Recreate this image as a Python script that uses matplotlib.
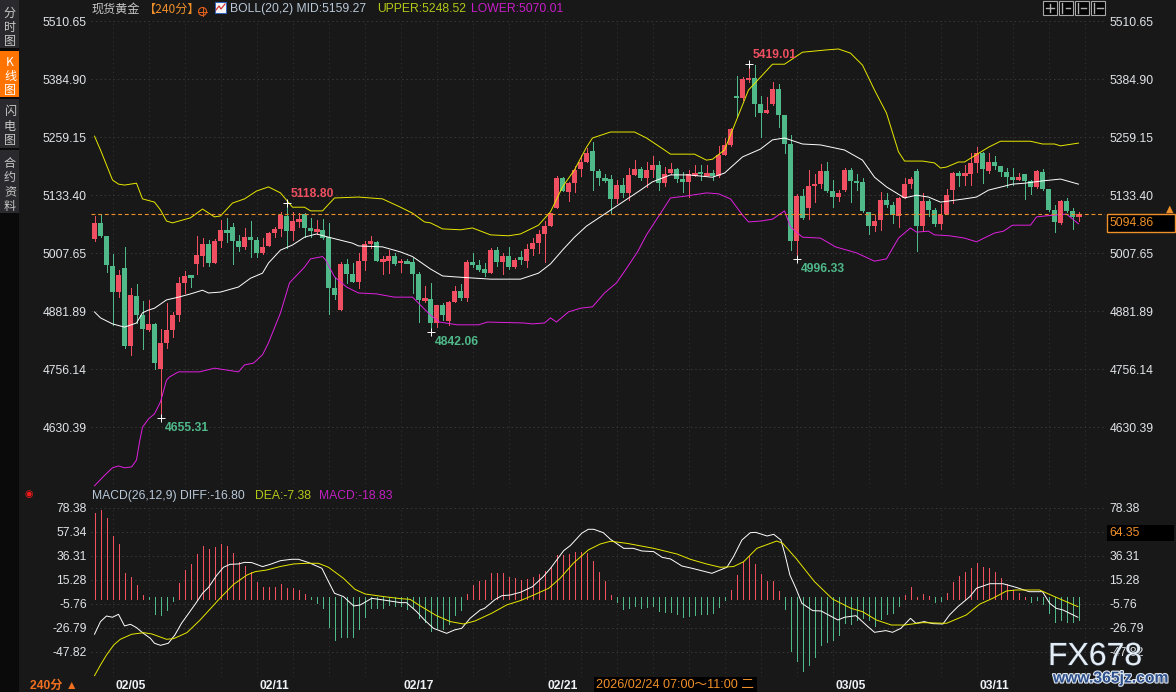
import matplotlib
matplotlib.use('Agg')
import matplotlib.pyplot as plt
import matplotlib.patheffects as pe
from matplotlib.patches import Rectangle, Ellipse
import numpy as np

W, H = 1176, 692

opens = [5037,5072,5045,4980,4924,4975,4806,4914,4873,4841,
         4854,4756,4813,4841,4873,4943,4960,4984,5001,5027,
         4986,5034,5058,5064,5034,5021,5042,5036,5008,5023,
         5051,5060,5088,5055,5077,5092,5062,5055,5058,5042,
         4932,4884,4984,4962,4945,4990,5027,5032,4990,4990,
         5001,4986,4990,4988,4962,4906,4908,4857,4895,4860,
         4901,4925,4910,4988,4982,4973,4964,5014,4988,5001,
         4977,5000,4990,5016,5029,5049,5066,5105,5170,5140,
         5159,5190,5205,5229,5185,5170,5168,5125,5155,5138,
         5177,5190,5170,5188,5199,5159,5181,5190,5168,5162,
         5177,5183,5178,5181,5175,5220,5242,5348,5344,5383,
         5387,5331,5312,5331,5363,5307,5244,5034,5131,5105,
         5153,5157,5185,5142,5129,5144,5188,5164,5162,5097,
         5066,5079,5123,5112,5088,5127,5157,5185,5066,5120,
         5101,5071,5092,5144,5181,5177,5179,5203,5224,5185,
         5205,5196,5183,5172,5166,5179,5164,5151,5183,5146,
         5101,5073,5120,5099,5088]
highs = [5088,5090,5045,5006,4971,5020,4931,4941,4904,4906,
         4856,4843,4900,4879,4956,4969,4961,5045,5040,5036,
         5037,5079,5083,5073,5047,5061,5077,5043,5040,5054,
         5065,5097,5117,5097,5094,5095,5083,5079,5081,5072,
         4956,4988,4995,4985,5008,5034,5045,5034,5001,5014,
         5008,4994,4994,4996,4967,4936,4942,4895,4900,4904,
         4936,4940,4993,5007,4993,4985,5018,5020,5007,5021,
         4996,5011,5027,5040,5058,5076,5095,5175,5172,5162,
         5196,5220,5235,5248,5189,5180,5177,5167,5170,5191,
         5209,5195,5206,5217,5207,5195,5202,5191,5184,5188,
         5199,5199,5199,5188,5240,5256,5279,5391,5389,5417,
         5415,5348,5345,5378,5374,5307,5264,5136,5146,5188,
         5179,5201,5205,5166,5144,5191,5191,5178,5170,5097,
         5090,5141,5138,5119,5130,5170,5173,5189,5137,5124,
         5105,5115,5146,5184,5186,5199,5225,5237,5227,5224,
         5217,5197,5191,5193,5182,5180,5166,5188,5189,5146,
         5112,5123,5126,5105,5097]
lows = [5034,5042,4967,4852,4913,4801,4787,4855,4800,4838,
        4756,4651,4801,4826,4861,4920,4935,4962,4980,4980,
        4986,5021,5032,4984,5013,5016,4998,4998,5006,5023,
        5043,5045,5018,5036,5065,5043,5043,5049,5037,4875,
        4909,4884,4942,4945,4932,4971,5018,4990,4962,4964,
        4982,4967,4985,4920,4859,4902,4837,4848,4862,4852,
        4901,4906,4904,4978,4969,4958,4964,4980,4962,4973,
        4975,4984,4978,5003,5007,4989,5066,5105,5142,5120,
        5140,5175,5204,5144,5155,5162,5094,5117,5130,5123,
        5177,5166,5151,5172,5144,5153,5180,5162,5139,5130,
        5175,5166,5177,5166,5172,5220,5240,5303,5339,5379,
        5305,5260,5312,5329,5280,5225,5014,4994,5081,5081,
        5119,5148,5140,5108,5120,5142,5119,5144,5097,5049,
        5056,5058,5108,5072,5063,5127,5148,5013,5056,5087,
        5066,5060,5092,5117,5153,5155,5155,5183,5160,5182,
        5190,5175,5151,5155,5165,5125,5136,5148,5144,5099,
        5053,5071,5097,5060,5077]
closes = [5072,5045,4982,4924,4960,4806,4917,4873,4843,4854,
          4769,4813,4841,4873,4943,4958,4958,5003,5027,4986,
          5034,5058,5055,5034,5021,5042,5036,5008,5021,5051,
          5060,5090,5055,5077,5079,5062,5055,5058,5040,4932,
          4917,4984,4962,4945,4990,5027,5034,4990,4993,5001,
          4984,4990,4988,4962,4906,4907,4857,4895,4873,4901,
          4925,4910,4988,4982,4971,4964,5014,4988,5001,4977,
          4993,4993,5016,5029,5049,5066,5094,5170,5142,5159,
          5188,5205,5225,5185,5170,5168,5125,5155,5138,5177,
          5190,5170,5188,5199,5159,5179,5190,5168,5162,5179,
          5178,5179,5179,5175,5220,5242,5277,5344,5385,5387,
          5331,5311,5318,5363,5307,5244,5034,5131,5084,5153,
          5157,5185,5142,5129,5137,5188,5164,5159,5099,5066,
          5077,5123,5112,5090,5127,5157,5168,5066,5120,5101,
          5071,5090,5133,5181,5175,5179,5203,5224,5190,5205,
          5196,5183,5172,5166,5172,5164,5151,5185,5146,5101,
          5075,5120,5099,5086,5090]

upper_x = [0,1,3,4,5,7,8,10,11,12,13,16,18,20,21,23,25,27,29,31,33,35,36,38,40,44,48,51,53,55,
           56,58,61,63,66,69,71,74,76,78,80,82,83,86,90,92,95,96,100,102,103,105,107,109,111,
           113,115,118,122,124,126,128,130,132,134,135,138,140,141,142,144,145,149,151,156,158,160,161,163,164]
upper = [5261,5231,5166,5157,5155,5159,5125,5118,5101,5077,5073,5084,5103,5086,5088,5116,5125,5142,5151,5138,5107,5107,5099,5099,5127,5129,5125,5107,5094,5075,
         5073,5060,5058,5062,5047,5045,5049,5068,5097,5151,5188,5237,5257,5270,5270,5257,5231,5222,5222,5209,5211,5231,5296,5361,5389,
         5417,5417,5443,5448,5450,5441,5415,5361,5311,5227,5207,5207,5203,5192,5194,5205,5205,5237,5250,5250,5244,5244,5240,5244,5246]

mid_x = [0,1,3,5,7,8,9,10,12,14,16,18,19,21,24,26,28,29,31,33,35,37,39,43,44,48,51,53,56,58,60,66,71,74,76,78,80,82,85,88,91,93,96,99,
         103,105,108,111,113,115,118,121,125,128,130,132,135,137,139,141,145,147,149,153,155,158,161,164]
mid = [4880,4867,4854,4847,4856,4878,4884,4888,4906,4912,4919,4927,4921,4923,4934,4953,4964,4986,5014,5025,5042,5049,5042,5029,5023,5021,5010,5000,4973,4958,4956,4951,4951,4964,4984,5014,5042,5066,5092,5118,5144,5162,5177,5177,
       5172,5181,5216,5233,5253,5257,5244,5242,5231,5209,5172,5151,5127,5133,5129,5118,5125,5129,5144,5157,5159,5164,5168,5157]

lower_x = [0,1.7,3,4,5,6.2,7,7.5,8,9,10,11,12,12.5,14,17.5,20,24,25,26.5,28,29,31,32.5,35,36,38,38.5,40,42,44,47,50,53,54,56,57.5,60.5,64,65.5,71.5,73,75,76,77,79,81,83,85,87,88.5,90.5,92,96,98.5,102,104,106,108,109,111,
           113,115,116,118,121,123.5,127,130,132,134,136,137,139,140,142.5,145,147,150,151.5,153,156,157,160,162,164]
lower = [4503,4526,4542,4546,4542,4544,4559,4598,4630,4648,4659,4685,4732,4739,4750,4750,4758,4750,4765,4769,4787,4813,4878,4943,4977,4995,5000,4993,4956,4934,4921,4919,4912,4912,4899,4873,4858,4852,4852,4858,4856,4854,4856,4867,4858,4880,4888,4891,4921,4943,4971,5010,5047,5127,5131,5138,5136,5125,5090,5075,5077,
         5081,5099,5064,5042,5040,5021,5008,4990,4995,5040,5062,5053,5055,5047,5045,5040,5032,5051,5055,5068,5068,5086,5090,5092,5071]

macd_hist = [73.7,76.6,69.9,54.1,47.1,21.4,17.9,10.9,2.1,-1.7,
             -14.5,-15.4,-11,-2.8,12.6,24,29.3,38,45,42.4,
             44.2,46.8,45,38.9,31,27.5,22.3,13.5,9.1,9.1,
             9.1,11.8,8.3,8.3,6.5,3,-1.1,-4.9,-9.3,-25.9,
             -37.3,-34.7,-34.7,-34.7,-27.7,-17.2,-9.3,-9.3,-9.3,-6.6,
             -7.5,-7.5,-10.1,-9.6,-18,-21.5,-29.4,-27.1,-27.7,-23.3,
             -15.4,-11,3,10.9,14.4,15.3,21.4,21.4,21.4,17.9,
             17,15.3,16.1,17.9,20.5,23.2,26.7,37.2,37.2,38,
             39.8,39.8,38.9,31.9,22.3,14.4,2.1,-4,-10.1,-9.3,
             -7.5,-9.3,-8.4,-7.5,-11.9,-12.8,-12.8,-14.5,-17.2,-16.3,
             -15.4,-14.5,-14.5,-13.6,-8.4,-2.3,6.5,19.6,31,36.3,
             29.3,20.5,14.4,14.4,5.6,-10.1,-47,-55.7,-64.5,-59.2,
             -52.2,-41.7,-39.1,-37.3,-33,-22.4,-23.3,-19.8,-18,-20.1,
             -25,-18.9,-14.5,-13.6,-7.5,2.1,9.1,0.4,3,1.2,
             -4,-3.1,3.9,13.5,18.8,22.3,25.8,30.2,26.7,25.8,
             22.3,17,11.8,6.5,3.9,0.4,-4,-2.3,-5.8,-13.6,
             -21.5,-19.8,-21.5,-21.5,-19.8]

diff_x = [0,1,2,3,4,5,6,7,8,9.3,10,11,12.3,13.4,14.5,15.7,16.8,18,19,20.4,21.5,22.6,24,25,26.2,28,29.3,31,32.9,34,35.7,37.9,39,40,41.5,43.2,44.3,46.2,48.2,
          51,52,53.7,55,56.5,58.7,60,61.2,62.6,64.3,65,66.8,67.9,69.3,71,73,74.8,76,78.2,79.3,81.2,82.3,83.2,84.8,86,88.2,89.8,91.2,93.2,94.6,96,97.9,99.6,102.9,105.4,106.5,107.9,109.3,110.2,112.1,113.2,
          114.4,115.1,115.9,116.9,117.9,119.7,121.1,123.9,125,126.9,128.6,130,131.9,133,134.4,136,136.9,138.3,139.7,141.4,142.5,143.9,145.9,147,149.2,151.4,153.6,155.8,158,159.2,160.3,161.4,163.9]
diff = [-32.3,-21.2,-16.3,-17.4,-14.8,-25,-23.6,-26.5,-30.9,-35.8,-40.2,-42,-40.2,-32.9,-22.7,-13.9,-5.8,3.6,8.8,19.6,26.4,29,29.3,30.7,30.5,27,29,32.2,33.4,33.4,30.5,25.5,13.8,3.6,0.7,-7.5,-6.6,-0.8,-2.3,
        -4.6,-4.6,-12.5,-19.8,-27.1,-31.5,-28.5,-27.1,-18.3,-11,-9.6,-1.7,1.5,2.1,4.5,9.4,18.2,25.5,41,45.4,56.2,59.7,59.7,56.7,50.9,43,43,40.7,40.1,35.1,33.7,27.5,25.5,21.1,26.4,35.7,50.3,56.7,57,53.8,55.3,
        50.3,37.2,19.6,8,-5.2,-11.6,-11.9,-19.8,-17.4,-16,-24.2,-30.6,-29.1,-30.6,-27.1,-18.3,-22.7,-21.2,-23,-23.3,-15.4,-8.1,0.7,8,12,12,8.8,5,5,-5.2,-9.6,-11,-17.4]

dea_x = [0,1,2,3.2,4.3,6.2,8.2,9.6,12,13.2,15.4,17.6,20.9,23.2,25.4,26.8,28.7,30.9,33.2,35.4,37.3,39,41.5,43.4,45.1,48.2,
         51,52.6,54.3,57,59.3,61.5,63.4,66.2,68.7,71,73.2,75.7,77.6,79.8,82.3,84.3,86,88.7,93.2,97.1,99.3,102,104.3,106.5,108.2,110.4,113.7,
         114.7,116.9,120,123,126.1,128,130.3,132.8,135,138,142,145.3,147.5,149.7,152,153.6,157.5,160.3,163.9]
dea = [-68.6,-59.2,-50.5,-41.7,-36.7,-32.3,-30.9,-32.1,-36.7,-36.1,-30.9,-19.8,-0.8,11.5,19.6,22.6,24,27,29.3,29.9,29.9,26.4,16.7,7.1,3,0.7,
       -1.1,-1.7,-7.5,-16,-21.2,-23.3,-20.7,-13.9,-6.6,-2.8,2.1,8,16.7,29.9,41.6,46.8,49.2,47.4,43,38,33.4,29.3,26.4,27,31.3,43,49.4,
       47.4,34.3,13.8,-1.4,-9.6,-12.5,-19.8,-24.2,-24.2,-22.1,-22.7,-15.4,-6,-0.8,5.6,6.5,6.5,0,-8.1]

price_ticks = [5510.65,5384.90,5259.15,5133.40,5007.65,4881.89,4756.14,4630.39]
macd_ticks = [78.38,57.34,36.31,15.28,-5.76,-26.79,-47.82]
date_idx = [6,30,54,78,126,150]
date_labels = ['02/05','02/11','02/17','02/21','03/05','03/11']
peak_labels = [(32,'5118.80','up'),(11,'4655.31','down'),(56,'4842.06','down'),(109,'5419.01','up'),(117,'4996.33','down')]
last_price = 5094.86

BG = '#181818'
RED = '#ef4f60'
GREEN = '#4fb98a'
YELLOW = '#e8e800'
MAGENTA = '#e020e0'
ORANGE = '#f0902a'
TXT = '#e0e4e8'
CJK = ['Noto Sans CJK SC', 'DejaVu Sans']
plt.rcParams['font.family'] = ['Liberation Sans', 'Noto Sans CJK SC', 'DejaVu Sans']
plt.rcParams['font.size'] = 8.7


def px_axes(left, top, right, bottom):
    return fig.add_axes([left / W, 1 - bottom / H, (right - left) / W, (bottom - top) / H])


def t(x, y, s, color=TXT, **kw):
    kw.setdefault('va', 'center')
    kw.setdefault('zorder', 5)
    return fig.text(x / W, 1 - y / H, s, color=color, **kw)


def box(x0, y0, x1, y1, **kw):
    kw.setdefault('zorder', 2)
    kw.setdefault('linewidth', 0)
    r = Rectangle((x0 / W, 1 - y1 / H), (x1 - x0) / W, (y1 - y0) / H, transform=fig.transFigure, **kw)
    fig.add_artist(r)
    return r


def seg(xs, ys, color, lw=1.0, zorder=4):
    fig.add_artist(plt.Line2D([v / W for v in xs], [1 - v / H for v in ys], color=color, lw=lw, zorder=zorder))


def style_axes(ax, ticks):
    ax.set_facecolor('none')
    for s in ax.spines.values():
        s.set_visible(False)
    ax.set_xlim((91 - 94.5) / 6, (1105 - 94.5) / 6)
    ax.set_yticks(ticks)
    ax.set_yticklabels(['%.2f' % v for v in ticks])
    ax.tick_params(axis='y', length=0, labelleft=True, labelright=True, pad=3.1, labelcolor=TXT, labelsize=8.7)
    ax.set_xticks(np.arange(3, 166, 6), minor=True)
    ax.tick_params(axis='x', which='minor', length=0)
    ax.grid(axis='y', which='major', color='#3a3a3a', lw=0.7, ls=(0, (1.5, 3)))
    ax.grid(axis='x', which='minor', color='#353535', lw=0.7, ls=(0, (1, 3.5)))
    ax.set_axisbelow(True)


fig = plt.figure(figsize=(W / 100, H / 100), dpi=100, facecolor=BG)

# main pane
ax = px_axes(91, 20, 1105, 488)
ax.set_ylim(5556.2 - 2.168 * 488, 5556.2 - 2.168 * 20)
style_axes(ax, price_ticks)
ax.set_xticks([])

x = np.arange(len(opens))
o = np.array(opens, float)
h = np.array(highs, float)
l = np.array(lows, float)
c = np.array(closes, float)
up = c >= o
for mask, col in ((up, RED), (~up, GREEN)):
    ax.vlines(x[mask], l[mask], h[mask], color=col, lw=0.72, antialiased=False, zorder=3)
    ax.bar(x[mask], np.abs(c - o)[mask], bottom=np.minimum(o, c)[mask], width=0.9, color=col,
           linewidth=0, antialiased=False, zorder=3)
    thin = mask & (np.abs(c - o) < 4)
    ax.hlines(c[thin], x[thin] - 0.42, x[thin] + 0.42, color=col, lw=0.8, antialiased=False, zorder=3)

ax.plot(upper_x, upper, color=YELLOW, lw=0.7, zorder=4)
ax.plot(mid_x, mid, color='white', lw=0.7, zorder=4)
ax.plot(lower_x, lower, color=MAGENTA, lw=0.7, zorder=4)
ax.axhline(last_price - 3, color=ORANGE, lw=0.8, ls=(0, (3.5, 2.5)), zorder=4)

for i, label, side in peak_labels:
    if side == 'up':
        ax.plot(i, highs[i], marker='+', ms=6, mew=0.7, color='white', zorder=5, clip_on=False)
        ax.annotate(label, (i, highs[i]), xytext=(3, 2), textcoords='offset points', color=RED,
                    fontweight='bold', fontsize=8.7, va='bottom', zorder=6)
    else:
        ax.plot(i, lows[i], marker='+', ms=6, mew=0.7, color='white', zorder=5, clip_on=False)
        ax.annotate(label, (i, lows[i]), xytext=(3, -3), textcoords='offset points', color=GREEN,
                    fontweight='bold', fontsize=8.7, va='top', zorder=6)

# macd pane
ax2 = px_axes(91, 507, 1105, 677)
ax2.set_ylim(523.5 - 0.8763 * 677, 523.5 - 0.8763 * 507)
style_axes(ax2, macd_ticks)
hist = np.array(macd_hist)
pos = hist > 0
ax2.vlines(x[pos], -1.2, hist[pos], color='#f4505f', lw=0.72, antialiased=False, zorder=3)
ax2.vlines(x[~pos], 0, hist[~pos], color=GREEN, lw=0.72, antialiased=False, zorder=3)
ax2.plot(diff_x, diff, color='white', lw=0.7, zorder=4)
ax2.plot(dea_x, dea, color=YELLOW, lw=0.7, zorder=4)
ax2.set_xticks(date_idx)
ax2.set_xticklabels(date_labels, fontweight='bold', color='#eef2f6', fontsize=8.7)
ax2.tick_params(axis='x', which='major', length=0, pad=2.5)

# left tab strip
box(0, 0, 19, 692, facecolor='#0a0a0a')
for y0, y1, col in ((0, 48, '#2a2a2e'), (51, 97, '#ff7300'), (99, 148, '#2a2a2e'), (150, 213, '#2a2a2e')):
    box(0, y0, 19, y1, facecolor=col)
for chars, y0, col in (('分时图', 13, '#c8c8c8'), ('K线图', 62, 'white'), ('闪电图', 112, '#c8c8c8'), ('合约资料', 163, '#c8c8c8')):
    for n, ch in enumerate(chars):
        t(10, y0 + n * 14.4, ch, color=col, ha='center', fontsize=8.7, family=CJK)

# header rows
t(92, 9, '现货黄金', family=CJK, fontsize=8.7, color='#c8c8c8')
t(144, 9, '【240分】', family=CJK, fontsize=8.7, color=ORANGE)
fig.add_artist(Ellipse((202.5 / W, 1 - 11.5 / H), 8 / W, 8 / H, transform=fig.transFigure,
                       facecolor='none', edgecolor='#e0601c', linewidth=0.8, zorder=3))
seg((198, 207), (11.5, 11.5), '#e0601c', lw=0.7)
seg((202.5, 202.5), (7, 16), '#e0601c', lw=0.7)
box(215, 2, 226, 13, facecolor='#f4f4f4', edgecolor='#3060c0', linewidth=0.7)
seg((216, 219, 221, 225), (10, 6, 9, 4), '#d02020', lw=0.8)
t(230, 9, 'BOLL(20,2) MID:5159.27', color='#b8c8d8')
t(377, 9, 'UPPER:5248.52', color='#b4c818')
t(471, 9, 'LOWER:5070.01', color='#c81ec8')
t(92, 496, 'MACD(26,12,9) DIFF:-16.80', color='#b8c8d8')
t(255, 496, 'DEA:-7.38', color='#b4c818')
t(319, 496, 'MACD:-18.83', color='#c020c0')
t(29, 494, '◉', color='#f01818', family='DejaVu Sans', ha='center', fontsize=7)

# toolbar, top right
for x0 in (1043, 1059, 1075, 1091):
    box(x0, 1, x0 + 14, 15, facecolor='#050505', edgecolor='#a8a8a8', linewidth=0.8, zorder=3)
for xs, ys in (((1046, 1054), (8, 8)), ((1050, 1050), (4, 12)), ((1062, 1062), (3, 13)), ((1066, 1070), (8, 8)),
               ((1078, 1078), (3, 13)), ((1081, 1086), (8, 8)), ((1094, 1094), (3, 13)), ((1097, 1103), (8, 8))):
    seg(xs, ys, '#b0b0b0')

# price boxes at the right
box(1106.5, 214.5, 1175, 232, facecolor='black', edgecolor=ORANGE, linewidth=1.0, zorder=3)
t(1110, 223.5, '5094.86', color=ORANGE)
t(1170, 209, '▲', color=ORANGE, family='DejaVu Sans', ha='center', fontsize=7)
box(1107, 525, 1174, 541, facecolor='black', zorder=3)
t(1109, 533, '64.35', color=ORANGE)

# bottom bar
t(30, 686, '240分 ▲', color='#f07020', family=['Liberation Sans', 'Noto Sans CJK SC', 'DejaVu Sans'], fontweight='bold')
box(594, 677, 757, 692, facecolor='black', zorder=3)
t(596, 685, '2026/02/24 07:00～11:00 二', color=ORANGE, fontsize=9.1, family=['Liberation Sans', 'Noto Sans CJK SC'])

# watermark
t(1048, 657, 'FX678', color='#e4ecf6', fontsize=23, ha='left', zorder=7,
  path_effects=[pe.withStroke(linewidth=0.8, foreground='#303840')])
t(1053, 678, 'www.365jz.com', color='#2c4f8c', fontsize=11.3, fontweight='bold', zorder=7,
  path_effects=[pe.withStroke(linewidth=1.6, foreground='#dfe6ee')])

fig.savefig('out.png', dpi=100, facecolor=BG)
